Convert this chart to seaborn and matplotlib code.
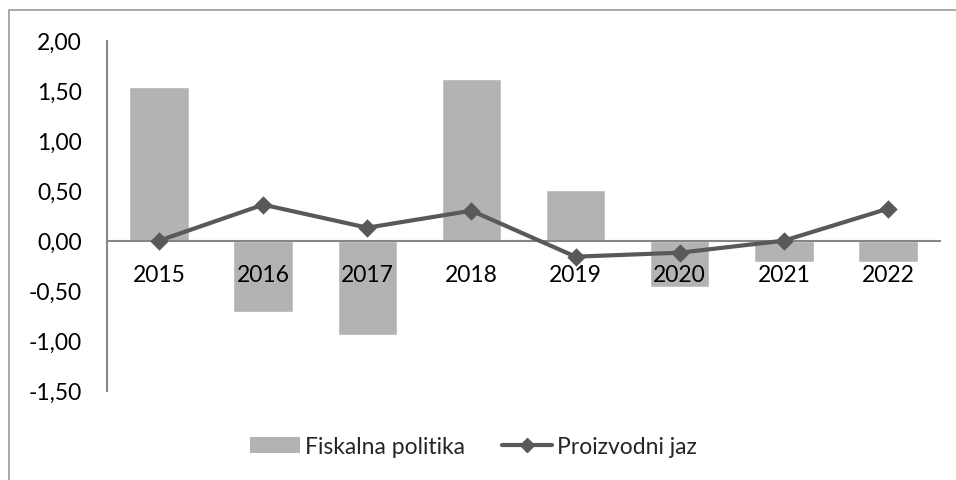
import matplotlib
matplotlib.use("Agg")
import matplotlib.pyplot as plt
import seaborn as sns
import pandas as pd
from matplotlib.patches import Patch, Rectangle
from matplotlib.lines import Line2D
from matplotlib.ticker import FuncFormatter, MultipleLocator

years = ["2015", "2016", "2017", "2018", "2019", "2020", "2021", "2022"]
fiskalna = [1.54, -0.71, -0.94, 1.62, 0.51, -0.46, -0.21, -0.21]
jaz = [0.00, 0.36, 0.13, 0.30, -0.16, -0.12, 0.00, 0.32]
labels = ["Fiskalna politika", "Proizvodni jaz"]

sns.set_theme(style="white")
plt.rcParams["font.family"] = ["Lato", "DejaVu Sans"]

df = pd.DataFrame({"year": years, "fisk": fiskalna, "jaz": jaz})

fig = plt.figure(figsize=(9.56, 4.81), dpi=100)
ax = fig.add_axes([0.1119, 0.1857, 0.8714, 0.7276])

bar_color = "#b3b3b3"
line_color = "#595959"
axis_color = "#868686"

sns.barplot(data=df, x="year", y="fisk", color=bar_color, width=0.57,
            saturation=1, ax=ax, zorder=2)
sns.pointplot(data=df, x="year", y="jaz", color=line_color, markers="D",
              linestyles="-", ax=ax, markersize=7.5, linewidth=3, zorder=4)

ax.set_xlim(-0.5, 7.5)
ax.set_ylim(-1.5, 2.0)
ax.yaxis.set_major_locator(MultipleLocator(0.5))
ax.yaxis.set_major_formatter(FuncFormatter(lambda v, p: f"{v:.2f}".replace(".", ",")))
ax.set_xlabel("")
ax.set_ylabel("")

for s in ["top", "right"]:
    ax.spines[s].set_visible(False)
ax.spines["bottom"].set_position(("data", 0))
ax.spines["bottom"].set_color(axis_color)
ax.spines["bottom"].set_linewidth(1.5)
ax.spines["bottom"].set_zorder(3)
ax.spines["left"].set_color(axis_color)
ax.spines["left"].set_linewidth(1.5)
ax.xaxis.set_zorder(3.5)

ax.tick_params(axis="x", length=0, pad=17, labelsize=16.5, labelcolor="#000000")
ax.tick_params(axis="y", length=0, pad=18, labelsize=16.5, labelcolor="#000000")

handles = [Patch(facecolor=bar_color, edgecolor="none"),
           Line2D([], [], color=line_color, linewidth=3, marker="D", markersize=7)]
fig.legend(handles, labels, loc="center", bbox_to_anchor=(0.495, 0.07), ncol=2,
           frameon=False, fontsize=16.5, handlelength=2.2, handletextpad=0.2,
           columnspacing=1.6)

fig.add_artist(Rectangle((9 / 956, -0.1), 1.2, 1 - 11 / 481 + 0.1,
                         transform=fig.transFigure, fill=False,
                         edgecolor="#9a9a9a", linewidth=1.2))

fig.savefig("out.png", dpi=100)
